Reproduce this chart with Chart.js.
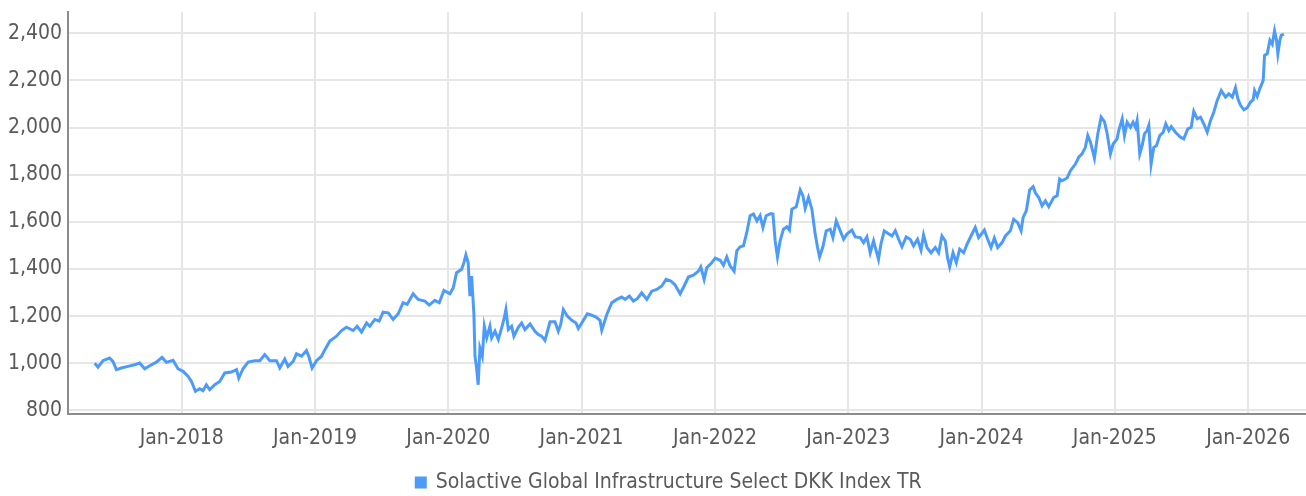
<!DOCTYPE html>
<html>
<head>
<meta charset="utf-8">
<script src="https://cdn.jsdelivr.net/npm/chart.js@4/dist/chart.umd.min.js"></script>
<style>
  html, body { margin: 0; padding: 0; background: #fff; }
  #wrap { width: 1306px; height: 496px; }
</style>
</head>
<body>
<div id="wrap"><canvas id="indexChart"></canvas></div>
<script>
// ---- data ----
const seriesName = 'Solactive Global Infrastructure Select DKK Index TR';

// decimal years
const dates = [
  2017.347, 2017.372, 2017.409, 2017.459, 2017.484, 2017.510, 2017.547, 2017.597, 2017.647, 2017.685,
  2017.722, 2017.773, 2017.810, 2017.852, 2017.885, 2017.935, 2017.972, 2018.010, 2018.047, 2018.073,
  2018.103, 2018.135, 2018.160, 2018.185, 2018.210, 2018.248, 2018.285, 2018.323, 2018.373, 2018.411,
  2018.428, 2018.460, 2018.498, 2018.548, 2018.586, 2018.623, 2018.661, 2018.711, 2018.736, 2018.773,
  2018.798, 2018.836, 2018.861, 2018.899, 2018.936, 2018.953, 2018.978, 2019.011, 2019.049,
  2019.074, 2019.111, 2019.161, 2019.199, 2019.236, 2019.286, 2019.316, 2019.349, 2019.387, 2019.411,
  2019.449, 2019.481, 2019.511, 2019.549, 2019.586, 2019.624, 2019.661, 2019.691, 2019.736, 2019.774,
  2019.824, 2019.857, 2019.899, 2019.932, 2019.967, 2020.012, 2020.037, 2020.062, 2020.100, 2020.117,
  2020.132, 2020.149, 2020.162, 2020.175, 2020.192, 2020.200, 2020.212, 2020.224, 2020.237, 2020.255,
  2020.270, 2020.288, 2020.312, 2020.325, 2020.350, 2020.375, 2020.400, 2020.417, 2020.432, 2020.450,
  2020.475, 2020.492, 2020.525, 2020.550, 2020.575, 2020.613, 2020.650, 2020.675, 2020.700, 2020.725,
  2020.763, 2020.800, 2020.825, 2020.843, 2020.863, 2020.893, 2020.926, 2020.958, 2020.975, 2021.001,
  2021.043, 2021.076, 2021.108, 2021.138, 2021.151, 2021.189, 2021.226, 2021.264, 2021.301, 2021.326,
  2021.358, 2021.388, 2021.418, 2021.451, 2021.489, 2021.526, 2021.564, 2021.601, 2021.634, 2021.669,
  2021.701, 2021.739, 2021.769, 2021.801, 2021.839, 2021.876, 2021.894, 2021.919, 2021.939, 2021.971,
  2022.002, 2022.039, 2022.064, 2022.089, 2022.114, 2022.144, 2022.164, 2022.189, 2022.214, 2022.239,
  2022.264, 2022.289, 2022.315, 2022.339, 2022.360, 2022.384, 2022.420, 2022.435, 2022.452, 2022.469,
  2022.489, 2022.514, 2022.540, 2022.559, 2022.577, 2022.610, 2022.640, 2022.660, 2022.677, 2022.702,
  2022.727, 2022.752, 2022.770, 2022.785, 2022.810, 2022.835, 2022.865, 2022.885, 2022.910, 2022.935,
  2022.965, 2022.990, 2023.028, 2023.053, 2023.090, 2023.115, 2023.140, 2023.165, 2023.190, 2023.210,
  2023.227, 2023.245, 2023.270, 2023.302, 2023.328, 2023.353, 2023.378, 2023.403, 2023.435, 2023.465,
  2023.490, 2023.520, 2023.546, 2023.565, 2023.591, 2023.621, 2023.653, 2023.678, 2023.703, 2023.728,
  2023.745, 2023.761, 2023.786, 2023.811, 2023.836, 2023.866, 2023.891, 2023.921, 2023.953, 2023.978,
  2024.021, 2024.046, 2024.071, 2024.096, 2024.121, 2024.154, 2024.179, 2024.216, 2024.241, 2024.271,
  2024.297, 2024.312, 2024.336, 2024.361, 2024.387, 2024.404, 2024.429, 2024.454, 2024.479, 2024.504,
  2024.541, 2024.567, 2024.586, 2024.604, 2024.642, 2024.667, 2024.704, 2024.729, 2024.754, 2024.779,
  2024.797, 2024.817, 2024.847, 2024.872, 2024.897, 2024.922, 2024.942, 2024.967, 2024.987, 2025.017,
  2025.029, 2025.055, 2025.072, 2025.092, 2025.117, 2025.137, 2025.155, 2025.167, 2025.187, 2025.205,
  2025.222, 2025.242, 2025.255, 2025.272, 2025.292, 2025.312, 2025.337, 2025.363, 2025.382, 2025.405,
  2025.423, 2025.455, 2025.492, 2025.517, 2025.547, 2025.573, 2025.592, 2025.618, 2025.643, 2025.667,
  2025.693, 2025.718, 2025.742, 2025.768, 2025.798, 2025.830, 2025.855, 2025.881, 2025.905, 2025.923,
  2025.943, 2025.968, 2025.993, 2026.018, 2026.038, 2026.048, 2026.068, 2026.088, 2026.113, 2026.123,
  2026.143, 2026.163, 2026.181, 2026.198, 2026.213, 2026.223, 2026.238, 2026.248, 2026.268
];

const values = [
  1000, 984, 1011, 1022, 1008, 973, 980, 987, 994, 1001,
  977, 994, 1005, 1025, 1004, 1013, 977, 966, 945, 923,
  881, 892, 884, 909, 888, 909, 923, 959, 963, 973,
  937, 977, 1005, 1011, 1011, 1037, 1011, 1011, 980, 1018,
  987, 1008, 1040, 1030, 1054, 1030, 980, 1011, 1030,
  1058, 1094, 1115, 1139, 1153, 1139, 1157, 1133, 1171, 1157,
  1186, 1179, 1217, 1214, 1186, 1210, 1257, 1250, 1295, 1271,
  1264, 1247, 1267, 1257, 1309, 1295, 1320, 1384, 1399, 1427,
  1460, 1427, 1285, 1370, 1207, 1030, 980, 909, 1065, 1030,
  1157, 1108, 1157, 1108, 1136, 1101, 1150, 1186, 1228, 1143,
  1157, 1115, 1153, 1171, 1143, 1167, 1136, 1122, 1115, 1097,
  1176, 1176, 1136, 1165, 1228, 1200, 1182, 1171, 1148, 1171,
  1210, 1204, 1196, 1182, 1140, 1207, 1257, 1271, 1281, 1271,
  1285, 1264, 1274, 1299, 1271, 1306, 1313, 1328, 1356, 1349,
  1332, 1295, 1328, 1366, 1374, 1391, 1409, 1356, 1406, 1423,
  1446, 1437, 1416, 1451, 1413, 1391, 1477, 1494, 1498, 1555,
  1626, 1633, 1604, 1626, 1576, 1626, 1635, 1633, 1519, 1451,
  1519, 1569, 1579, 1565, 1654, 1664, 1735, 1711, 1658, 1703,
  1654, 1548, 1491, 1451, 1494, 1562, 1569, 1533, 1604, 1569,
  1526, 1548, 1565, 1536, 1533, 1512, 1536, 1469, 1519, 1477,
  1441, 1505, 1562, 1550, 1540, 1562, 1526, 1494, 1536, 1526,
  1498, 1526, 1480, 1545, 1491, 1469, 1491, 1469, 1540, 1519,
  1448, 1409, 1469, 1427, 1484, 1469, 1505, 1540, 1576, 1533,
  1565, 1526, 1491, 1531, 1491, 1512, 1540, 1562, 1611, 1597,
  1562, 1619, 1647, 1735, 1749, 1723, 1703, 1668, 1689, 1664,
  1703, 1711, 1782, 1774, 1786, 1817, 1845, 1874, 1888, 1916,
  1966, 1938, 1870, 1973, 2044, 2025, 1975, 1888, 1930, 1952,
  1987, 2037, 1966, 2023, 2001, 2023, 2001, 2030, 1888, 1923,
  1973, 1987, 2009, 1845, 1916, 1923, 1966, 1980, 2016, 1987,
  2004, 1980, 1959, 1952, 1994, 2001, 2069, 2037, 2044, 2016,
  1980, 2030, 2065, 2115, 2157, 2129, 2143, 2129, 2169, 2122,
  2094, 2075, 2084, 2108, 2118, 2157, 2132, 2165, 2200, 2306,
  2313, 2370, 2353, 2410, 2370, 2313, 2370, 2391, 2396
];

const yTicks = [800, 1000, 1200, 1400, 1600, 1800, 2000, 2200, 2400];
const xTickYears = [2018, 2019, 2020, 2021, 2022, 2023, 2024, 2025, 2026];
const xTickLabels = ['Jan-2018', 'Jan-2019', 'Jan-2020', 'Jan-2021', 'Jan-2022',
                     'Jan-2023', 'Jan-2024', 'Jan-2025', 'Jan-2026'];

// ---- styling ----
const lineBlue = '#4d9bf8';
const textGrey = '#5a5a5a';
const gridGrey = '#e6e6e6';
const axisGrey = '#8c8c8c';
const fontFamily = "'DejaVu Sans Condensed', 'Liberation Sans Narrow', 'Roboto', sans-serif";

// nudge the legend a little right and down, like in the original
const legendShift = {
    id: 'legendShift',
    afterLayout(chart) {
        if (chart.legend) {
            chart.legend.left += 16;
            chart.legend.right += 16;
            chart.legend.top += 7;
            chart.legend.bottom += 7;
        }
    }
};

document.addEventListener('DOMContentLoaded', function() {
    const ctx = document.getElementById('indexChart').getContext('2d');

    new Chart(ctx, {
        type: 'line',
        data: {
            datasets: [{
                label: seriesName,
                data: dates.map((d, i) => ({ x: d, y: values[i] })),
                borderColor: lineBlue,
                backgroundColor: lineBlue,
                borderWidth: 3,
                pointRadius: 0,
                tension: 0,
                fill: false
            }]
        },
        plugins: [legendShift],
        options: {
            responsive: true,
            maintainAspectRatio: false,
            animation: false,
            parsing: false,
            layout: { padding: { top: 12, right: 0, left: 0, bottom: 0 } },
            plugins: {
                tooltip: { enabled: false },
                legend: {
                    position: 'bottom',
                    labels: {
                        boxWidth: 9,
                        boxHeight: 9,
                        color: textGrey,
                        padding: 1,
                        font: { family: fontFamily, size: 21 }
                    }
                }
            },
            scales: {
                x: {
                    type: 'linear',
                    min: 2017.147,
                    max: 2026.434,
                    afterBuildTicks: scale => { scale.ticks = xTickYears.map(v => ({ value: v })); },
                    afterFit: scale => { scale.height = 50; },
                    ticks: {
                        color: textGrey,
                        padding: 12,
                        maxRotation: 0,
                        autoSkip: false,
                        font: { family: fontFamily, size: 21 },
                        callback: (value, index) => xTickLabels[index]
                    },
                    grid: { color: gridGrey, lineWidth: 2, drawTicks: false },
                    border: { display: true, color: axisGrey, width: 2 }
                },
                y: {
                    min: 785,
                    max: 2490,
                    afterBuildTicks: scale => { scale.ticks = yTicks.map(v => ({ value: v })); },
                    afterFit: scale => { scale.width = 68; scale.paddingTop = 0; },
                    ticks: {
                        color: textGrey,
                        padding: 6,
                        font: { family: fontFamily, size: 21 },
                        callback: value => value.toLocaleString('en-US')
                    },
                    grid: { color: gridGrey, lineWidth: 2, drawTicks: false },
                    border: { display: true, color: axisGrey, width: 2 }
                }
            }
        }
    });
});
</script>
</body>
</html>
